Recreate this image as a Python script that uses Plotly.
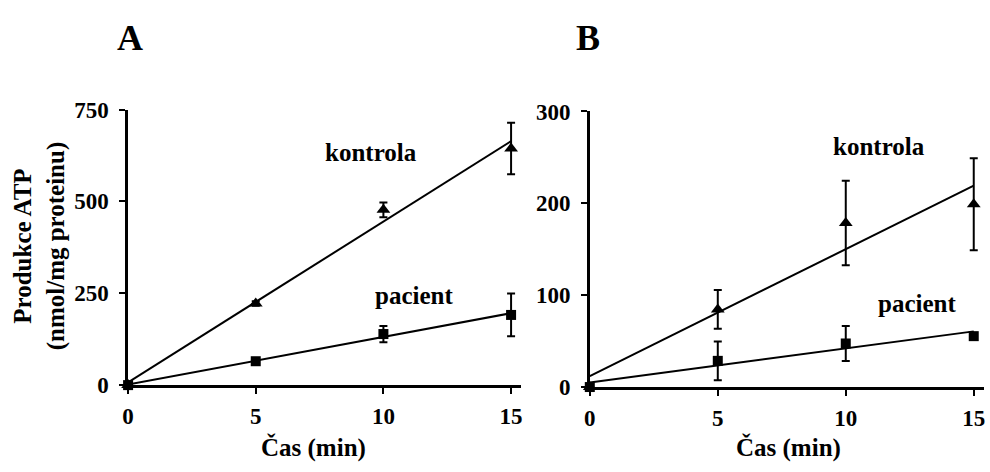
import numpy as np
import plotly.graph_objects as go

# ---------------- data ----------------
time_min = [0, 5, 10, 15]

a_kontrola = [0, 222, 477, 644]
a_kontrola_err = [0, 6, 20, 70]
a_pacient = [0, 65, 139, 191]
a_pacient_err = [0, 5, 22, 58]

b_kontrola = [0, 84.5, 178.7, 199]
b_kontrola_err = [0, 21, 46, 50]
b_pacient = [0, 28.5, 47.4, 55.4]
b_pacient_err = [0, 21, 19, 2]

a_yticks = [0, 250, 500, 750]
b_yticks = [0, 100, 200, 300]
xticks = [0, 5, 10, 15]

series_names = ["kontrola", "pacient"]
panel_labels = ["A", "B"]
x_title = "Čas (min)"
y_title_lines = ["Produkce ATP", "(nmol/mg proteinu)"]

FONT = "Liberation Serif, Times New Roman, serif"
BLACK = "#000000"

fig = go.Figure()


def add_series(xa, ya, y, err, symbol, size):
    x = np.array(time_min, dtype=float)
    yv = np.array(y, dtype=float)
    slope, intercept = np.polyfit(x, yv, 1)
    xl = np.array([x.min(), x.max()])
    fig.add_trace(go.Scatter(
        x=xl, y=slope * xl + intercept, mode="lines",
        line=dict(color=BLACK, width=2), xaxis=xa, yaxis=ya,
        showlegend=False, hoverinfo="skip", cliponaxis=False))
    fig.add_trace(go.Scatter(
        x=x, y=yv, mode="markers",
        marker=dict(symbol=symbol, size=size, color=BLACK),
        error_y=dict(type="data", array=err, visible=True,
                     color=BLACK, thickness=2, width=4),
        xaxis=xa, yaxis=ya, showlegend=False, cliponaxis=False))


add_series("x", "y", a_kontrola, a_kontrola_err, "triangle-up", 12)
add_series("x", "y", a_pacient, a_pacient_err, "square", 10)
add_series("x2", "y2", b_kontrola, b_kontrola_err, "triangle-up", 12)
add_series("x2", "y2", b_pacient, b_pacient_err, "square", 10)


def bold(v):
    return f"<b>{v}</b>"


tickfont = dict(family=FONT, size=23, color=BLACK)
axis_common = dict(showgrid=False, zeroline=False, showline=True,
                   linecolor=BLACK, linewidth=2.5, ticks="outside",
                   ticklen=6, tickwidth=2, tickcolor=BLACK,
                   tickfont=tickfont, fixedrange=True)

fig.update_layout(
    width=990, height=472,
    margin=dict(l=0, r=0, t=0, b=0),
    paper_bgcolor="white", plot_bgcolor="white",
    xaxis=dict(domain=[0.1242, 0.5242], range=[0, 15.4],
               tickvals=xticks, ticktext=[bold(v) for v in xticks],
               anchor="y", ticklabelstandoff=3, **axis_common),
    yaxis=dict(domain=[0.1653, 0.7818], range=[0, 750],
               tickvals=a_yticks, ticktext=[bold(v) for v in a_yticks],
               anchor="x", ticklabelstandoff=6, **axis_common),
    xaxis2=dict(domain=[0.5939, 0.9949], range=[0, 15.4],
                tickvals=xticks, ticktext=[bold(v) for v in xticks],
                anchor="y2", ticklabelstandoff=3, **axis_common),
    yaxis2=dict(domain=[0.161, 0.7775], range=[0, 300],
                tickvals=b_yticks, ticktext=[bold(v) for v in b_yticks],
                anchor="x2", ticklabelstandoff=6, **axis_common),
)

ann_font = dict(family=FONT, size=25, color=BLACK)

# series labels (data coordinates)
labels = [
    ("x", "y", 9.5, 634, series_names[0]),
    ("x", "y", 11.2, 245, series_names[1]),
    ("x2", "y2", 11.3, 262, series_names[0]),
    ("x2", "y2", 12.8, 91, series_names[1]),
]
for xr, yr, xv, yv, t in labels:
    fig.add_annotation(x=xv, y=yv, xref=xr, yref=yr, text=bold(t),
                       showarrow=False, font=ann_font)

# axis titles
for xc in [0.313, 0.796]:
    fig.add_annotation(x=xc, y=0.0254, xref="paper", yref="paper",
                       text=bold(x_title), showarrow=False, font=ann_font,
                       xanchor="center", yanchor="middle")
fig.add_annotation(x=0.035, y=0.4767, xref="paper", yref="paper",
                   text="<br>".join(bold(t) for t in y_title_lines),
                   showarrow=False, font=ann_font,
                   textangle=-90, xanchor="center", yanchor="middle")

# panel letters
for xc, lab in zip([0.1263, 0.5919], panel_labels):
    fig.add_annotation(x=xc, y=1 - 27 / 472, xref="paper", yref="paper",
                       text=bold(lab), showarrow=False,
                       font=dict(family=FONT, size=36, color=BLACK),
                       xanchor="center", yanchor="middle")

fig.write_html("out.html")
